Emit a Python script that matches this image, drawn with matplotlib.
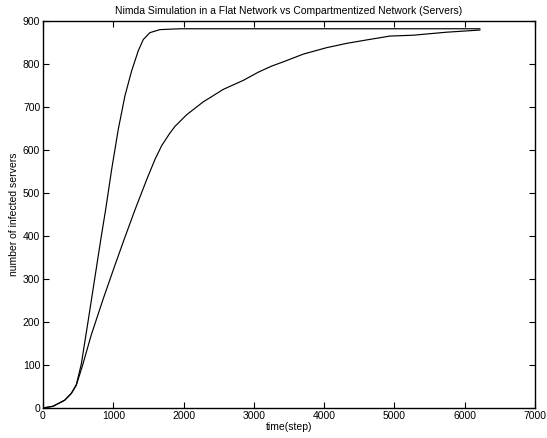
import matplotlib
matplotlib.use("Agg")
import matplotlib.pyplot as plt

# infected servers over time, flat network
flat_steps = [0, 142, 308, 403, 474, 545, 640, 735, 830, 892, 977, 1071,
              1166, 1261, 1356, 1427, 1522, 1664, 1949, 3000, 4000, 5000,
              6216]
flat_infected = [0, 4, 18, 34, 54, 102, 200, 300, 400, 462, 555, 648,
                 726, 784, 831, 857, 873, 880, 882, 882, 882, 882,
                 882]

# infected servers over time, compartmentalized network
comp_steps = [0, 142, 308, 403, 474, 559, 687, 853, 1019, 1161, 1309, 1475,
              1593, 1688, 1800, 1878, 2044, 2280, 2565, 2850, 3063, 3250,
              3418, 3703, 4035, 4320, 4604, 4936, 5268, 5742, 6216]
comp_infected = [0, 4, 18, 34, 53, 97, 170, 252, 330, 395, 461, 531,
                 578, 610, 638, 655, 682, 712, 741, 762, 781, 795,
                 805, 823, 838, 848, 856, 865, 867, 874, 879]

x_ticks = [0, 1000, 2000, 3000, 4000, 5000, 6000, 7000]
y_ticks = [0, 100, 200, 300, 400, 500, 600, 700, 800, 900]

plt.rcParams['font.family'] = ['Liberation Sans', 'DejaVu Sans']
plt.rcParams['font.size'] = 7.5

fig = plt.figure(figsize=(5.47, 4.38), dpi=100)
ax = fig.add_axes([0.0786, 0.0685, 0.8994, 0.8835])

ax.plot(flat_steps, flat_infected, color='black', linewidth=0.85)
ax.plot(comp_steps, comp_infected, color='black', linewidth=0.85)

ax.set_xlim(0, 7000)
ax.set_ylim(0, 900)
ax.set_xticks(x_ticks)
ax.set_yticks(y_ticks)
ax.tick_params(direction='in', length=4, width=0.8, top=True, right=True,
               pad=2, labelsize=7.5)
for spine in ax.spines.values():
    spine.set_linewidth(1.0)

ax.set_title('Nimda Simulation in a Flat Network vs Compartmentized Network (Servers)',
             fontsize=7.5, pad=5)
ax.set_xlabel('time(step)', fontsize=7.5, labelpad=1)
ax.set_ylabel('number of infected servers', fontsize=7.5, labelpad=3)

fig.savefig('out.png', dpi=100)
